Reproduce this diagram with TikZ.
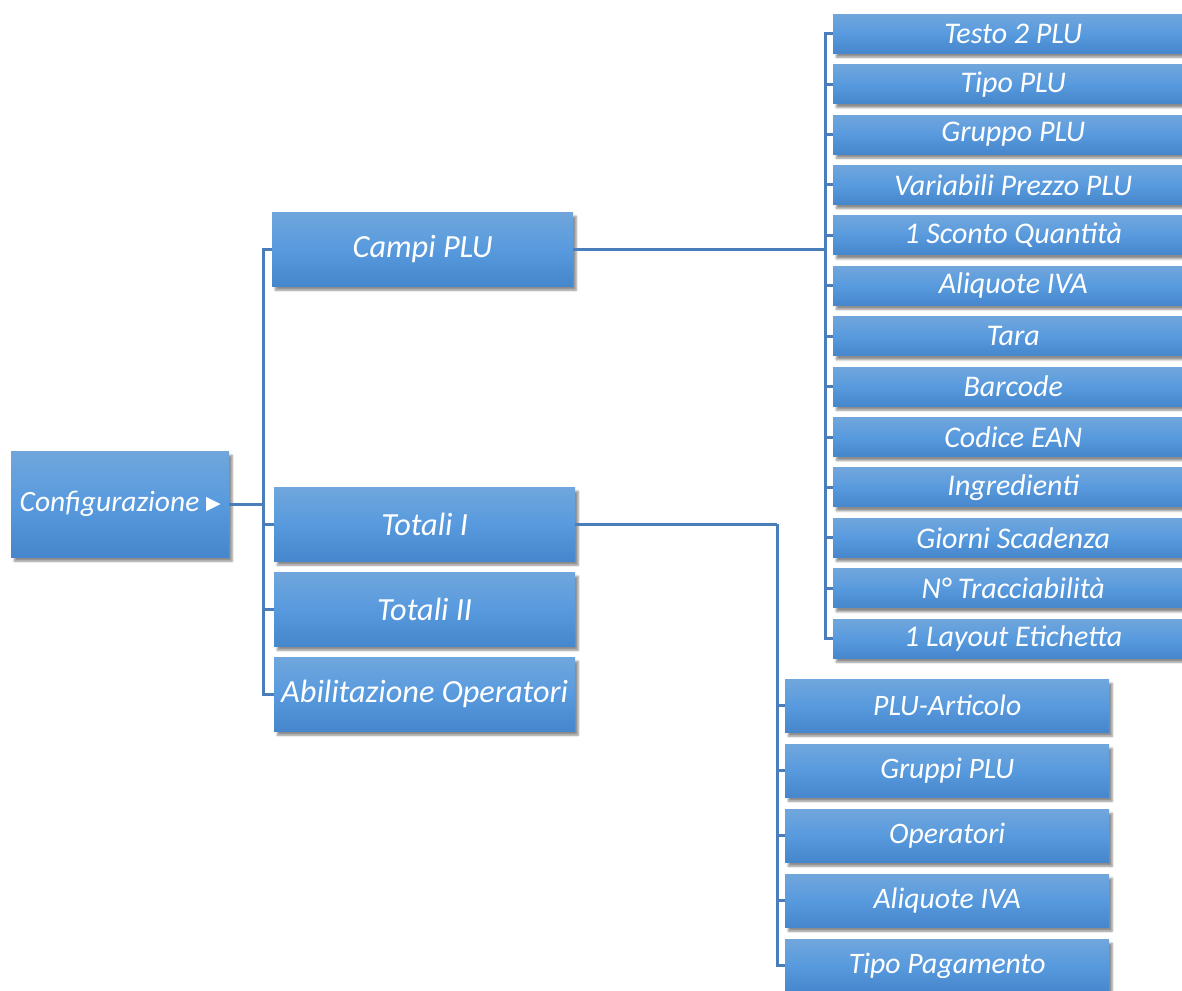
\documentclass[tikz,border=0pt]{standalone}
\usepackage{fontspec}
\setmainfont{Carlito}
\newfontfamily\symfont{DejaVu Sans}
\usetikzlibrary{shadows.blur}
\definecolor{linec}{RGB}{74,126,187}
\definecolor{boxtop}{RGB}{112,166,220}
\definecolor{boxmid}{RGB}{88,154,222}
\definecolor{boxbot}{RGB}{70,134,204}
\tikzset{
  box/.style={draw=none, anchor=north west, inner sep=0pt,
    top color=boxtop, bottom color=boxbot, middle color=boxmid,
    text=white, font=\itshape,
    blur shadow={shadow xshift=3pt, shadow yshift=-4pt, shadow blur steps=6, shadow opacity=45}},
  rbox/.style={box, minimum width=360pt, minimum height=39pt, font=\itshape\fontsize{30}{34}\selectfont},
  bbox/.style={box, minimum width=324pt, minimum height=53pt, font=\itshape\fontsize{29.7}{34}\selectfont},
  mbox/.style={box, minimum width=301pt, minimum height=74pt, font=\itshape\fontsize{32.3}{36}\selectfont},
  conn/.style={draw=linec, line width=3pt}
}
\begin{document}
\begin{tikzpicture}[x=1pt,y=-1pt]
\useasboundingbox (0,0) rectangle (1182,990);
% root
\node[box, minimum width=218pt, minimum height=106pt, font=\itshape\fontsize{29.5}{34}\selectfont] (cfg) at (11,451) {Configurazione {\upshape\symfont\fontsize{19}{20}\selectfont\raisebox{2pt}{▶}}};
% middle
\node[mbox] (campi) at (272,212) {Campi PLU};
\node[mbox] (tot1) at (274,487) {Totali I};
\node[mbox] (tot2) at (274,572) {Totali II};
\node[mbox] (abil) at (274,657) {Abilitazione Operatori};
% right column
\foreach \t [count=\i] in {Testo 2 PLU, Tipo PLU, Gruppo PLU, Variabili Prezzo PLU, 1 Sconto Quantità, Aliquote IVA, Tara, Barcode, Codice EAN, Ingredienti, Giorni Scadenza, N° Tracciabilità, 1 Layout Etichetta}
  \node[rbox] (r\i) at (833,{14+50.42*(\i-1)}) {\t};
% bottom column
\foreach \t [count=\i] in {PLU-Articolo, Gruppi PLU, Operatori, Aliquote IVA, Tipo Pagamento}
  \node[bbox] (b\i) at (785,{679+65*(\i-1)}) {\t};
% connectors
\coordinate (t1) at (cfg.east -| 263,0);
\coordinate (t2) at (campi.east -| 825,0);
\coordinate (t3) at (tot1.east -| 777,0);
\draw[conn] (cfg.east) -- (t1);
\foreach \n in {campi,tot1,tot2,abil} \draw[conn] (t1) |- (\n.west);
\draw[conn] (campi.east) -- (t2);
\foreach \i in {1,...,13} \draw[conn] (t2) |- (r\i.west);
\draw[conn] (tot1.east) -- (t3);
\foreach \i in {1,...,5} \draw[conn] (t3) |- (b\i.west);
\end{tikzpicture}
\end{document}
